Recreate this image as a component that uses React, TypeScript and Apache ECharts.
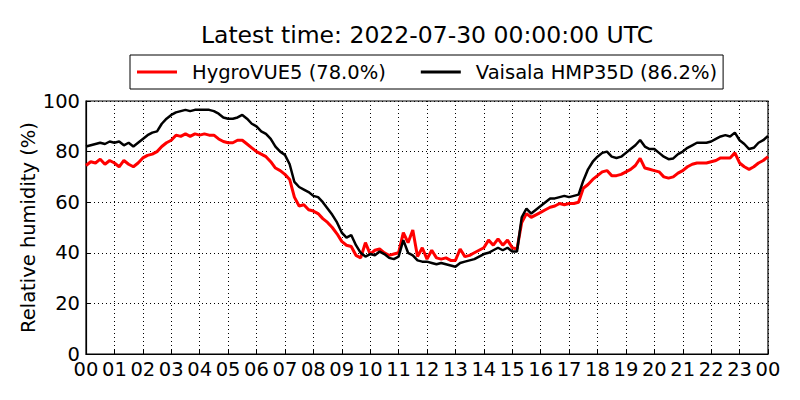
import React, { useEffect, useRef } from "react";
import * as echarts from "echarts";

const TITLE = "Latest time: 2022-07-30 00:00:00 UTC";
const SERIES_NAMES = ["HygroVUE5 (78.0%)", "Vaisala HMP35D (86.2%)"];
const Y_LABEL = "Relative humidity (%)";
// samples every 10 minutes, from 00:00 to 24:00
const STEP_HOURS = 1 / 6;

const HYGROVUE5 = [
  74.5, 76, 75.5, 77, 75, 76.5, 75.5, 74, 76.5, 75, 74, 75.5,
  77.5, 78.5, 79, 80, 82, 83.5, 84.5, 86.5, 86, 87, 86, 87,
  86.5, 87, 86.5, 86.5, 85, 84, 83.5, 83.5, 84.5, 84.5, 83, 81.5,
  80, 79, 78, 76, 73.5, 72.5, 71, 69, 62, 58.5, 59, 57,
  56.5, 55.5, 53.5, 52, 50, 47.5, 44.5, 43, 42.5, 39, 38, 44,
  39.5, 41, 41.5, 40, 39, 39.5, 40, 48, 44, 49, 38.5, 42,
  37.5, 41, 38, 37.5, 38, 37, 37, 41.5, 38.5, 39, 40, 41,
  42, 45, 43, 45.5, 43, 45, 42, 41.5, 52, 55.5, 54, 55,
  56, 57, 58, 58.5, 59.5, 59, 59.5, 59.5, 60, 65.5, 67, 69,
  70.5, 72, 72.5, 70.5, 70.5, 71, 72, 73, 74.5, 77.3, 73.5, 73,
  72.5, 72, 70, 69.5, 70, 71.5, 72.5, 74, 75, 75.5, 75.5, 75.5,
  76, 76.5, 77.5, 77.5, 77.5, 79.5, 75.5, 74, 73, 74, 75.5, 76.5,
  78,
];

const HMP35D = [
  82, 82.5, 83, 83.5, 83, 84, 83.5, 84, 82.5, 83.5, 82, 83.5,
  85, 86.5, 87.5, 88, 91, 93, 94.5, 95.5, 96, 96.5, 96, 96.5,
  96.5, 96.5, 96.5, 96, 95, 93.5, 93, 93, 93.5, 94.5, 93, 91,
  90, 88, 87, 85, 82, 80, 78.7, 75, 68, 66, 65, 64,
  62.5, 62, 60, 57.5, 55, 52, 48, 46, 47, 43, 40, 38.5,
  39.5, 39, 40.5, 39.5, 38, 37.5, 38.5, 45, 40, 39, 37, 36.5,
  36.5, 36, 35.5, 36, 35.5, 35, 34.5, 36, 36.5, 37, 37.5, 38.5,
  39.5, 40, 41, 42, 41, 42, 40.5, 40.5, 54, 57.5, 55.5, 57,
  58.5, 60, 61.5, 61.5, 62, 62.5, 62, 62.5, 63, 68.5, 73, 76,
  78, 79.5, 80, 78, 77.5, 78, 79.5, 81, 82.5, 84.6, 82, 81,
  81, 79.5, 78, 77, 77.3, 79, 80, 81.5, 82.5, 83.5, 83.5, 83.5,
  84, 85, 86, 86.5, 86, 87.5, 84.5, 83, 81, 81.5, 83.5, 84.5,
  86.2,
];

const Y_MIN = 0;
const Y_MAX = 100;
const Y_INTERVAL = 20;
const X_MIN = 0;
const X_MAX = 24;

const FONT = "DejaVu Sans";

function toPairs(values: number[]) {
  return values.map((v, i) => [i * STEP_HOURS, v]);
}

export default function App() {
  const ref = useRef<HTMLDivElement>(null);
  useEffect(() => {
    if (!ref.current) return;
    const chart = echarts.init(ref.current, null, { renderer: "svg" });
    chart.setOption({
      animation: false,
      backgroundColor: "#fff",
      graphic: [
        {
          type: "text",
          x: 427,
          y: 35,
          style: {
            text: TITLE,
            font: `23.5px "${FONT}"`,
            fill: "#000",
            textAlign: "center",
            textVerticalAlign: "middle",
          },
        },
      ],
      legend: {
        left: 130,
        top: 55,
        orient: "horizontal",
        borderColor: "#000",
        borderWidth: 1,
        borderRadius: 0,
        padding: [7, 6, 7, 7],
        icon: "rect",
        itemWidth: 40,
        itemHeight: 3,
        itemGap: 35,
        textStyle: {
          fontFamily: FONT,
          fontSize: 19.5,
          color: "#000",
          padding: [0, 0, 0, 10],
        },
        data: SERIES_NAMES,
      },
      grid: {
        left: 86,
        right: 32,
        top: 101,
        bottom: 46,
        show: true,
        borderColor: "#000",
        borderWidth: 1.2,
        backgroundColor: "#fff",
      },
      xAxis: {
        type: "value",
        min: X_MIN,
        max: X_MAX,
        interval: 1,
        axisLine: { show: true, lineStyle: { color: "#000", width: 1.2 } },
        axisTick: { show: true, inside: true, length: 4, lineStyle: { color: "#000" } },
        axisLabel: {
          color: "#000",
          fontFamily: FONT,
          fontSize: 19.5,
          margin: 5,
          formatter: (v: number) => String(v % 24).padStart(2, "0"),
        },
        splitLine: { show: true, lineStyle: { color: "#000", type: [1, 3], width: 1 } },
      },
      yAxis: {
        type: "value",
        min: Y_MIN,
        max: Y_MAX,
        interval: Y_INTERVAL,
        name: Y_LABEL,
        nameLocation: "middle",
        nameGap: 48,
        nameMoveOverlap: false,
        nameTextStyle: { color: "#000", fontFamily: FONT, fontSize: 19.5 },
        axisLine: { show: true, lineStyle: { color: "#000", width: 1.2 } },
        axisTick: { show: true, inside: true, length: 4, lineStyle: { color: "#000" } },
        axisLabel: { color: "#000", fontFamily: FONT, fontSize: 19.5, margin: 6 },
        splitLine: { show: true, lineStyle: { color: "#000", type: [1, 3], width: 1 } },
      },
      series: [
        {
          name: SERIES_NAMES[0],
          type: "line",
          data: toPairs(HYGROVUE5),
          symbol: "none",
          color: "#ff0000",
          lineStyle: { color: "#ff0000", width: 3 },
        },
        {
          name: SERIES_NAMES[1],
          type: "line",
          data: toPairs(HMP35D),
          symbol: "none",
          color: "#000000",
          lineStyle: { color: "#000000", width: 2.5 },
        },
      ],
    });
    return () => chart.dispose();
  }, []);
  return (
    <div
      ref={ref}
      style={{ position: "fixed", left: 0, top: 0, width: 800, height: 400, background: "#fff" }}
    />
  );
}
